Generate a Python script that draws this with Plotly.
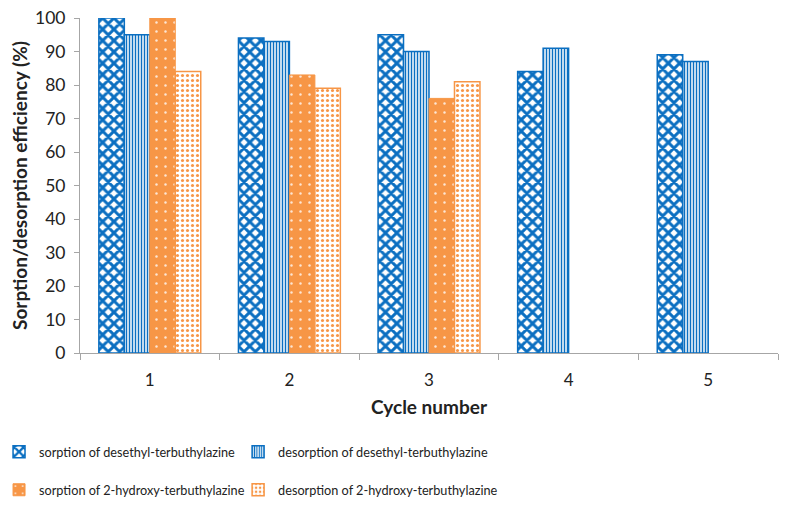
import plotly.graph_objects as go

cycles = ["1", "2", "3", "4", "5"]
sorp_desethyl = [100, 94, 95, 84, 89]
desorp_desethyl = [95, 93, 90, 91, 87]
sorp_hydroxy = [100, 83, 76, None, None]
desorp_hydroxy = [84, 79, 81, None, None]

names = [
    "sorption of desethyl-terbuthylazine",
    "desorption of desethyl-terbuthylazine",
    "sorption of 2-hydroxy-terbuthylazine",
    "desorption of 2-hydroxy-terbuthylazine",
]

BLUE = "#0B6FC1"
ORANGE = "#F79646"
FONT = "Lato"

W, H = 783, 501  # page body adds an 8px offset

fig = go.Figure()
fig.add_trace(go.Bar(
    x=cycles, y=sorp_desethyl, name=names[0], legend="legend",
    marker=dict(color="white", line=dict(color=BLUE, width=1.5),
                pattern=dict(shape="x", fgcolor=BLUE, bgcolor="white",
                             size=8, solidity=0.6, fillmode="replace")),
))
fig.add_trace(go.Bar(
    x=cycles, y=desorp_desethyl, name=names[1], legend="legend2",
    marker=dict(color="white", line=dict(color=BLUE, width=1.5),
                pattern=dict(shape="|", fgcolor=BLUE, bgcolor="white",
                             size=3, solidity=0.5, fillmode="replace")),
))
fig.add_trace(go.Bar(
    x=cycles, y=sorp_hydroxy, name=names[2], legend="legend3",
    marker=dict(color=ORANGE, line=dict(color=ORANGE, width=1),
                pattern=dict(shape=".", fgcolor="#FDE6D4", bgcolor=ORANGE,
                             size=9, solidity=0.06, fillmode="replace")),
))
fig.add_trace(go.Bar(
    x=cycles, y=desorp_hydroxy, name=names[3], legend="legend4",
    marker=dict(color="white", line=dict(color=ORANGE, width=1.5),
                pattern=dict(shape=".", fgcolor=ORANGE, bgcolor="white",
                             size=5, solidity=0.3, fillmode="replace")),
))

legend_common = dict(
    orientation="h", xanchor="left", yanchor="middle",
    yref="container",
    font=dict(family=FONT, size=12.7, color="#222222"),
    bgcolor="rgba(0,0,0,0)", itemclick=False,
)
col1, col2 = -0.116, 0.2265
row1, row2 = 1 - 444 / H, 1 - 482 / H

fig.update_layout(
    width=W, height=H,
    margin=dict(l=72, r=13, t=10, b=156, autoexpand=False),
    paper_bgcolor="white", plot_bgcolor="white",
    barmode="group", bargap=0.27, bargroupgap=0,
    font=dict(family=FONT, size=17, color="#222222"),
    showlegend=True,
    legend=dict(x=col1, y=row1, **legend_common),
    legend2=dict(x=col2, y=row1, **legend_common),
    legend3=dict(x=col1, y=row2, **legend_common),
    legend4=dict(x=col2, y=row2, **legend_common),
    xaxis=dict(
        type="category", showline=True, linecolor="#A6A6A6", linewidth=1,
        ticks="outside", tickson="boundaries", ticklen=6, tickcolor="#A6A6A6",
        showgrid=False, tickfont=dict(size=17), ticklabelstandoff=12,
        title=dict(text="<b>Cycle number</b>", font=dict(size=19), standoff=11),
    ),
    yaxis=dict(
        range=[0, 100], dtick=10, showline=True, linecolor="#A6A6A6", linewidth=1,
        ticks="outside", ticklen=5, tickcolor="#A6A6A6", showgrid=False,
        tickfont=dict(size=17.5), zeroline=False, ticklabelstandoff=5,
        ticklabeloverflow="allow",
        title=dict(text="<b>Sorption/desorption efficiency (%)</b>", font=dict(size=19), standoff=21),
    ),
)

fig.write_html("out.html")
